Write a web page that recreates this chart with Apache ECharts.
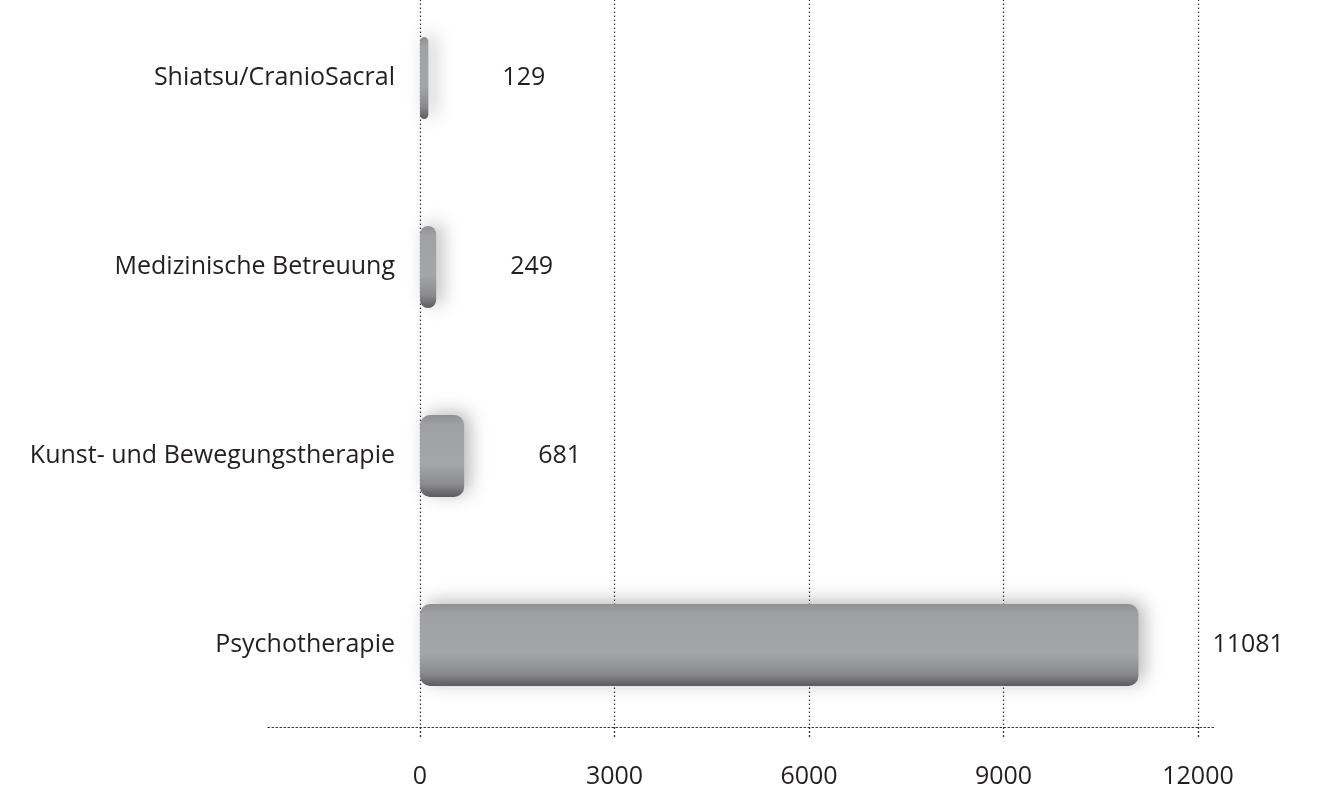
<!DOCTYPE html>
<html>
<head>
<meta charset="utf-8">
<script src="https://cdn.jsdelivr.net/npm/echarts@6/dist/echarts.min.js"></script>
<style>
  html, body { margin: 0; padding: 0; background: #ffffff; }
  #chart { width: 1322px; height: 795px; }
</style>
</head>
<body>
<div id="chart"></div>
<script>
// Leistungen (Anzahl) – bottom to top
const categories = ['Psychotherapie', 'Kunst- und Bewegungstherapie', 'Medizinische Betreuung', 'Shiatsu/CranioSacral'];
const values = [11081, 681, 249, 129];
const tickValues = [0, 3000, 6000, 9000, 12000];

const FONT = '"Open Sans", "Noto Sans", sans-serif';
const TEXT = '#231f20';
const FS = 25;

const chart = echarts.init(document.getElementById('chart'), null, { renderer: 'canvas' });

const barFill = new echarts.graphic.LinearGradient(0, 0, 0, 1, [
  { offset: 0, color: '#8f9094' },
  { offset: 0.12, color: '#a0a1a5' },
  { offset: 0.6, color: '#a4a5a9' },
  { offset: 0.85, color: '#898a8e' },
  { offset: 1, color: '#5c5c60' }
]);

const dotted = { color: '#333', width: 1.2, type: [1.5, 2.5] };

chart.setOption({
  animation: false,
  grid: [
    { left: 420, right: 124, top: -16.5, bottom: 55.5, containLabel: false, outerBoundsMode: 'none' },
    // wider strip carrying only the long dotted baseline
    { left: 268, right: 106, top: -16.5, bottom: 55.5, containLabel: false, outerBoundsMode: 'none' }
  ],
  xAxis: [
    {
      gridIndex: 0,
      type: 'value',
      min: tickValues[0],
      max: tickValues[tickValues.length - 1],
      interval: tickValues[1] - tickValues[0],
      offset: -12.5,
      axisLine: { show: false },
      axisTick: { show: true, length: 10, lineStyle: dotted },
      splitLine: { show: true, lineStyle: dotted },
      axisLabel: {
        color: TEXT, fontFamily: FONT, fontSize: FS, margin: 37,
        formatter: (v) => String(v)
      }
    },
    {
      gridIndex: 1,
      type: 'value',
      min: 0,
      max: 1,
      offset: -12.5,
      axisLine: { show: true, lineStyle: dotted },
      axisTick: { show: false },
      splitLine: { show: false },
      axisLabel: { show: false }
    }
  ],
  yAxis: [
    {
      gridIndex: 0,
      type: 'category',
      data: categories,
      axisLine: { show: false },
      axisTick: { show: false },
      axisLabel: { color: TEXT, fontFamily: FONT, fontSize: FS, margin: 25 }
    },
    {
      gridIndex: 1,
      type: 'category',
      data: categories,
      show: false
    }
  ],
  series: [
    {
      type: 'bar',
      xAxisIndex: 0,
      yAxisIndex: 0,
      data: values,
      barWidth: 82,
      itemStyle: {
        color: barFill,
        borderRadius: 10,
        shadowColor: 'rgba(0,0,0,0.28)',
        shadowBlur: 18,
        shadowOffsetX: 6,
        shadowOffsetY: -3
      },
      label: {
        show: true,
        position: 'right',
        distance: 74,
        color: TEXT,
        fontFamily: FONT,
        fontSize: FS
      }
    }
  ]
});
</script>
</body>
</html>
